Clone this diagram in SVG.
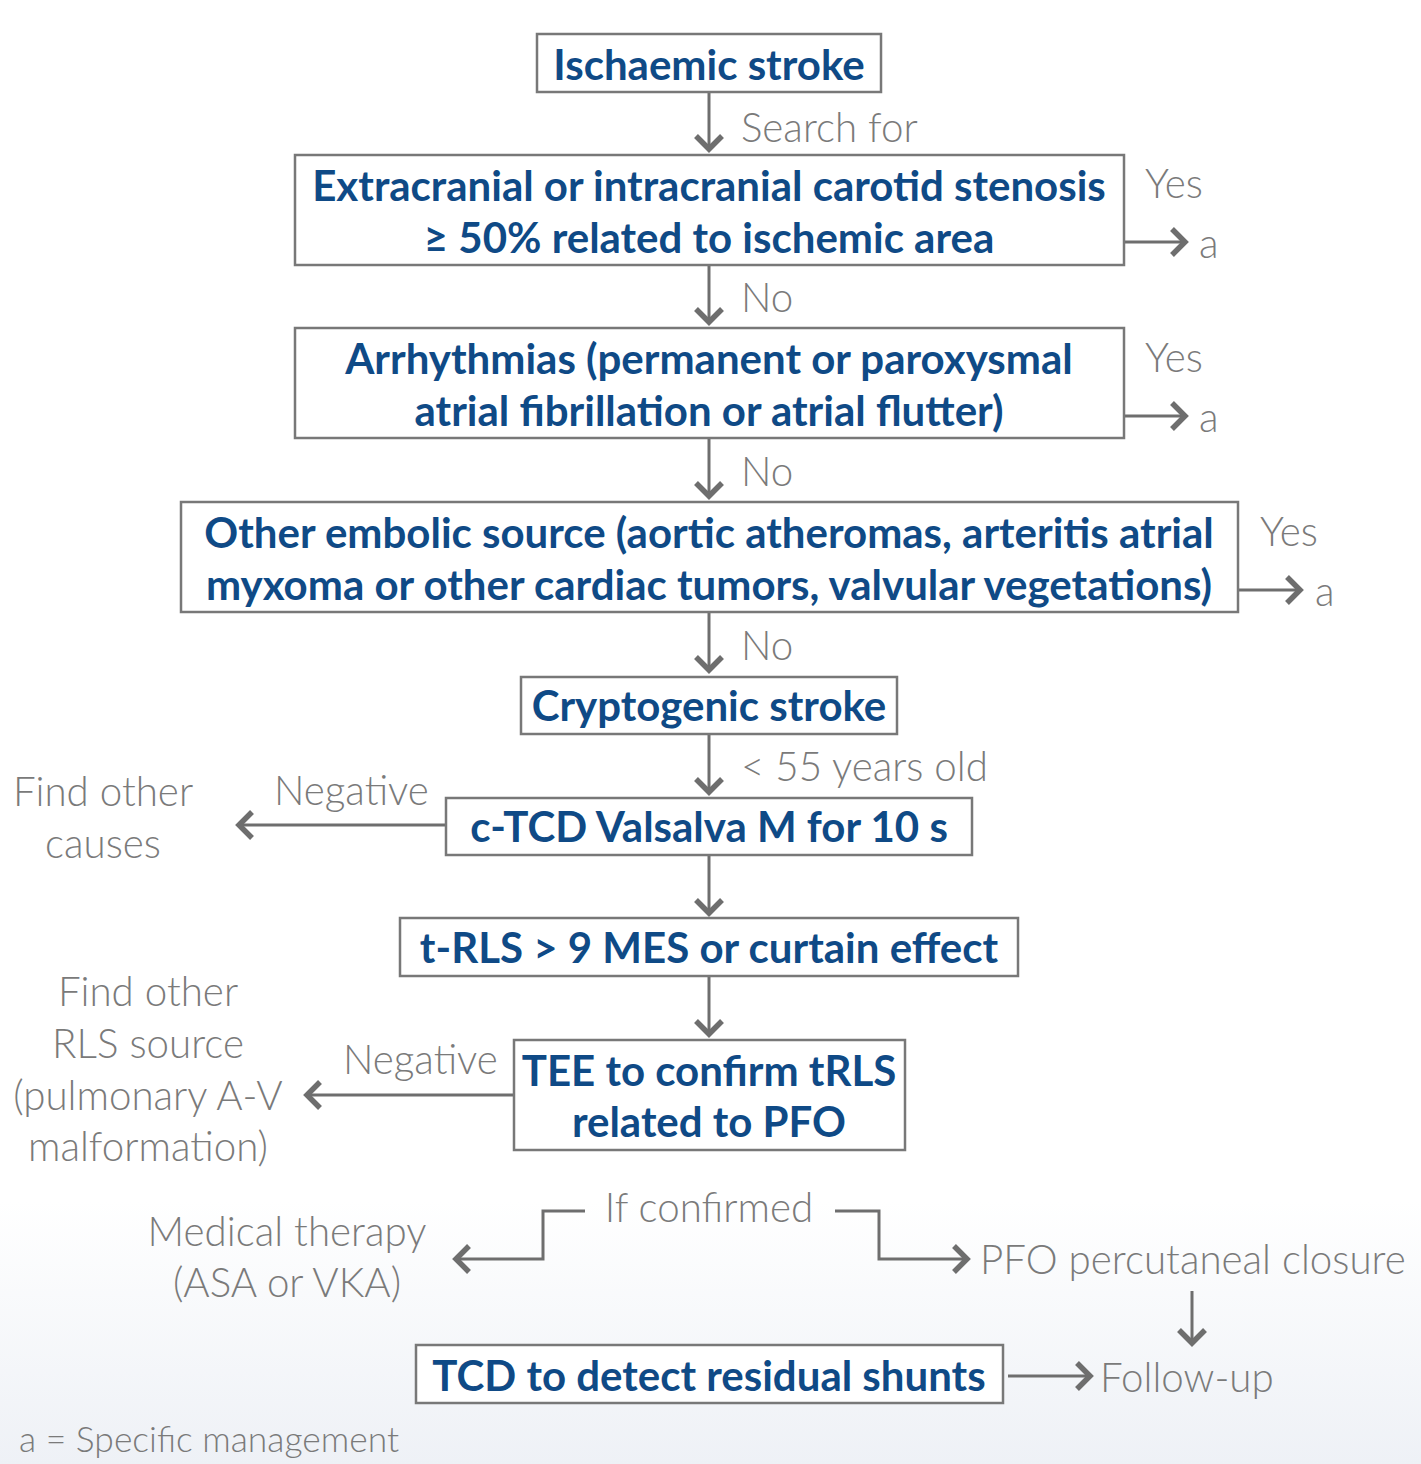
<svg xmlns="http://www.w3.org/2000/svg" width="1421" height="1464" viewBox="0 0 1421 1464">
<defs>
<linearGradient id="bg" x1="0" y1="0" x2="0" y2="1">
<stop offset="0" stop-color="#ffffff"/>
<stop offset="0.82" stop-color="#ffffff"/>
<stop offset="1" stop-color="#eef1f6"/>
</linearGradient>
<marker id="ah" viewBox="0 0 32 32" refX="18" refY="16" markerWidth="32" markerHeight="32" markerUnits="userSpaceOnUse" orient="auto">
<path d="M5,3 L18,16 L5,29" fill="none" stroke="#6e6e6e" stroke-width="5.5"/>
</marker>
<style>
.box{fill:#fff;stroke:#787878;stroke-width:2.5}
.bt{font-family:Lato,"Liberation Sans",sans-serif;font-weight:700;font-size:42px;fill:#0f4a86;text-anchor:middle}
.gt{font-family:Lato,"Liberation Sans",sans-serif;font-weight:300;font-size:40.3px;fill:#7a7a7a}
.c{text-anchor:middle}
.ln{fill:none;stroke:#6e6e6e;stroke-width:3}
.ar{marker-end:url(#ah)}
</style>
</defs>
<rect width="1421" height="1464" fill="url(#bg)"/>
<g id="connectors">
<line class="ln ar" x1="709" y1="92" x2="709" y2="149"/>
<line class="ln ar" x1="709" y1="265" x2="709" y2="322"/>
<line class="ln ar" x1="709" y1="438" x2="709" y2="496"/>
<line class="ln ar" x1="709" y1="612" x2="709" y2="670"/>
<line class="ln ar" x1="709" y1="734" x2="709" y2="792"/>
<line class="ln ar" x1="709" y1="855" x2="709" y2="913"/>
<line class="ln ar" x1="709" y1="976" x2="709" y2="1034"/>
<line class="ln ar" x1="1124" y1="242" x2="1185" y2="242"/>
<line class="ln ar" x1="1124" y1="416" x2="1185" y2="416"/>
<line class="ln ar" x1="1238" y1="590" x2="1300" y2="590"/>
<line class="ln ar" x1="446" y1="825" x2="239" y2="825"/>
<line class="ln ar" x1="514" y1="1095" x2="307" y2="1095"/>
<polyline class="ln ar" points="585,1211 543,1211 543,1259 456,1259"/>
<polyline class="ln ar" points="835,1211 879,1211 879,1259 967,1259"/>
<line class="ln ar" x1="1192" y1="1291" x2="1192" y2="1343"/>
<line class="ln ar" x1="1008" y1="1376" x2="1090" y2="1376"/>
</g>
<g id="labels">
<text class="gt" x="741" y="142">Search for</text>
<text class="gt" x="741" y="312">No</text>
<text class="gt" x="741" y="486">No</text>
<text class="gt" x="741" y="660">No</text>
<text class="gt" x="741" y="781">&lt; 55 years old</text>
<text class="gt" x="1145" y="198">Yes</text>
<text class="gt" x="1199" y="258">a</text>
<text class="gt" x="1145" y="372">Yes</text>
<text class="gt" x="1199" y="432">a</text>
<text class="gt" x="1260" y="546">Yes</text>
<text class="gt" x="1315" y="606">a</text>
<text class="gt" x="274" y="805">Negative</text>
<text class="gt c" x="103" y="806">Find other</text>
<text class="gt c" x="103" y="858">causes</text>
<text class="gt" x="343" y="1074">Negative</text>
<text class="gt c" x="148" y="1006">Find other</text>
<text class="gt c" x="148" y="1058">RLS source</text>
<text class="gt c" x="148" y="1110">(pulmonary A-V</text>
<text class="gt c" x="148" y="1161">malformation)</text>
<text class="gt c" x="709" y="1222">If confirmed</text>
<text class="gt c" x="287" y="1246">Medical therapy</text>
<text class="gt c" x="287" y="1297">(ASA or VKA)</text>
<text class="gt" x="980" y="1274">PFO percutaneal closure</text>
<text class="gt" x="1100" y="1392">Follow-up</text>
<text class="gt" x="19" y="1452" style="font-size:35.4px">a = Specific management</text>
</g>
<g id="n1"><rect class="box" x="537" y="34" width="344" height="58"/><text class="bt" x="709" y="80">Ischaemic stroke</text></g>
<g id="n2"><rect class="box" x="295" y="155" width="829" height="110"/><text class="bt" x="709" y="201">Extracranial or intracranial carotid stenosis</text><text class="bt" x="709" y="253">≥ 50% related to ischemic area</text></g>
<g id="n3"><rect class="box" x="295" y="328" width="829" height="110"/><text class="bt" x="709" y="374">Arrhythmias (permanent or paroxysmal</text><text class="bt" x="709" y="426">atrial fibrillation or atrial flutter)</text></g>
<g id="n4"><rect class="box" x="181" y="502" width="1057" height="110"/><text class="bt" x="709" y="548">Other embolic source (aortic atheromas, arteritis atrial</text><text class="bt" x="709" y="600">myxoma or other cardiac tumors, valvular vegetations)</text></g>
<g id="n5"><rect class="box" x="521" y="677" width="376" height="57"/><text class="bt" x="709" y="721">Cryptogenic stroke</text></g>
<g id="n6"><rect class="box" x="446" y="798" width="526" height="57"/><text class="bt" x="709" y="842">c-TCD Valsalva M for 10 s</text></g>
<g id="n7"><rect class="box" x="400" y="918" width="618" height="58"/><text class="bt" x="709" y="963">t-RLS &gt; 9 MES or curtain effect</text></g>
<g id="n8"><rect class="box" x="514" y="1040" width="391" height="110"/><text class="bt" x="709" y="1086">TEE to confirm tRLS</text><text class="bt" x="709" y="1137">related to PFO</text></g>
<g id="n9"><rect class="box" x="416" y="1345" width="587" height="58"/><text class="bt" x="709" y="1391">TCD to detect residual shunts</text></g>
</svg>
